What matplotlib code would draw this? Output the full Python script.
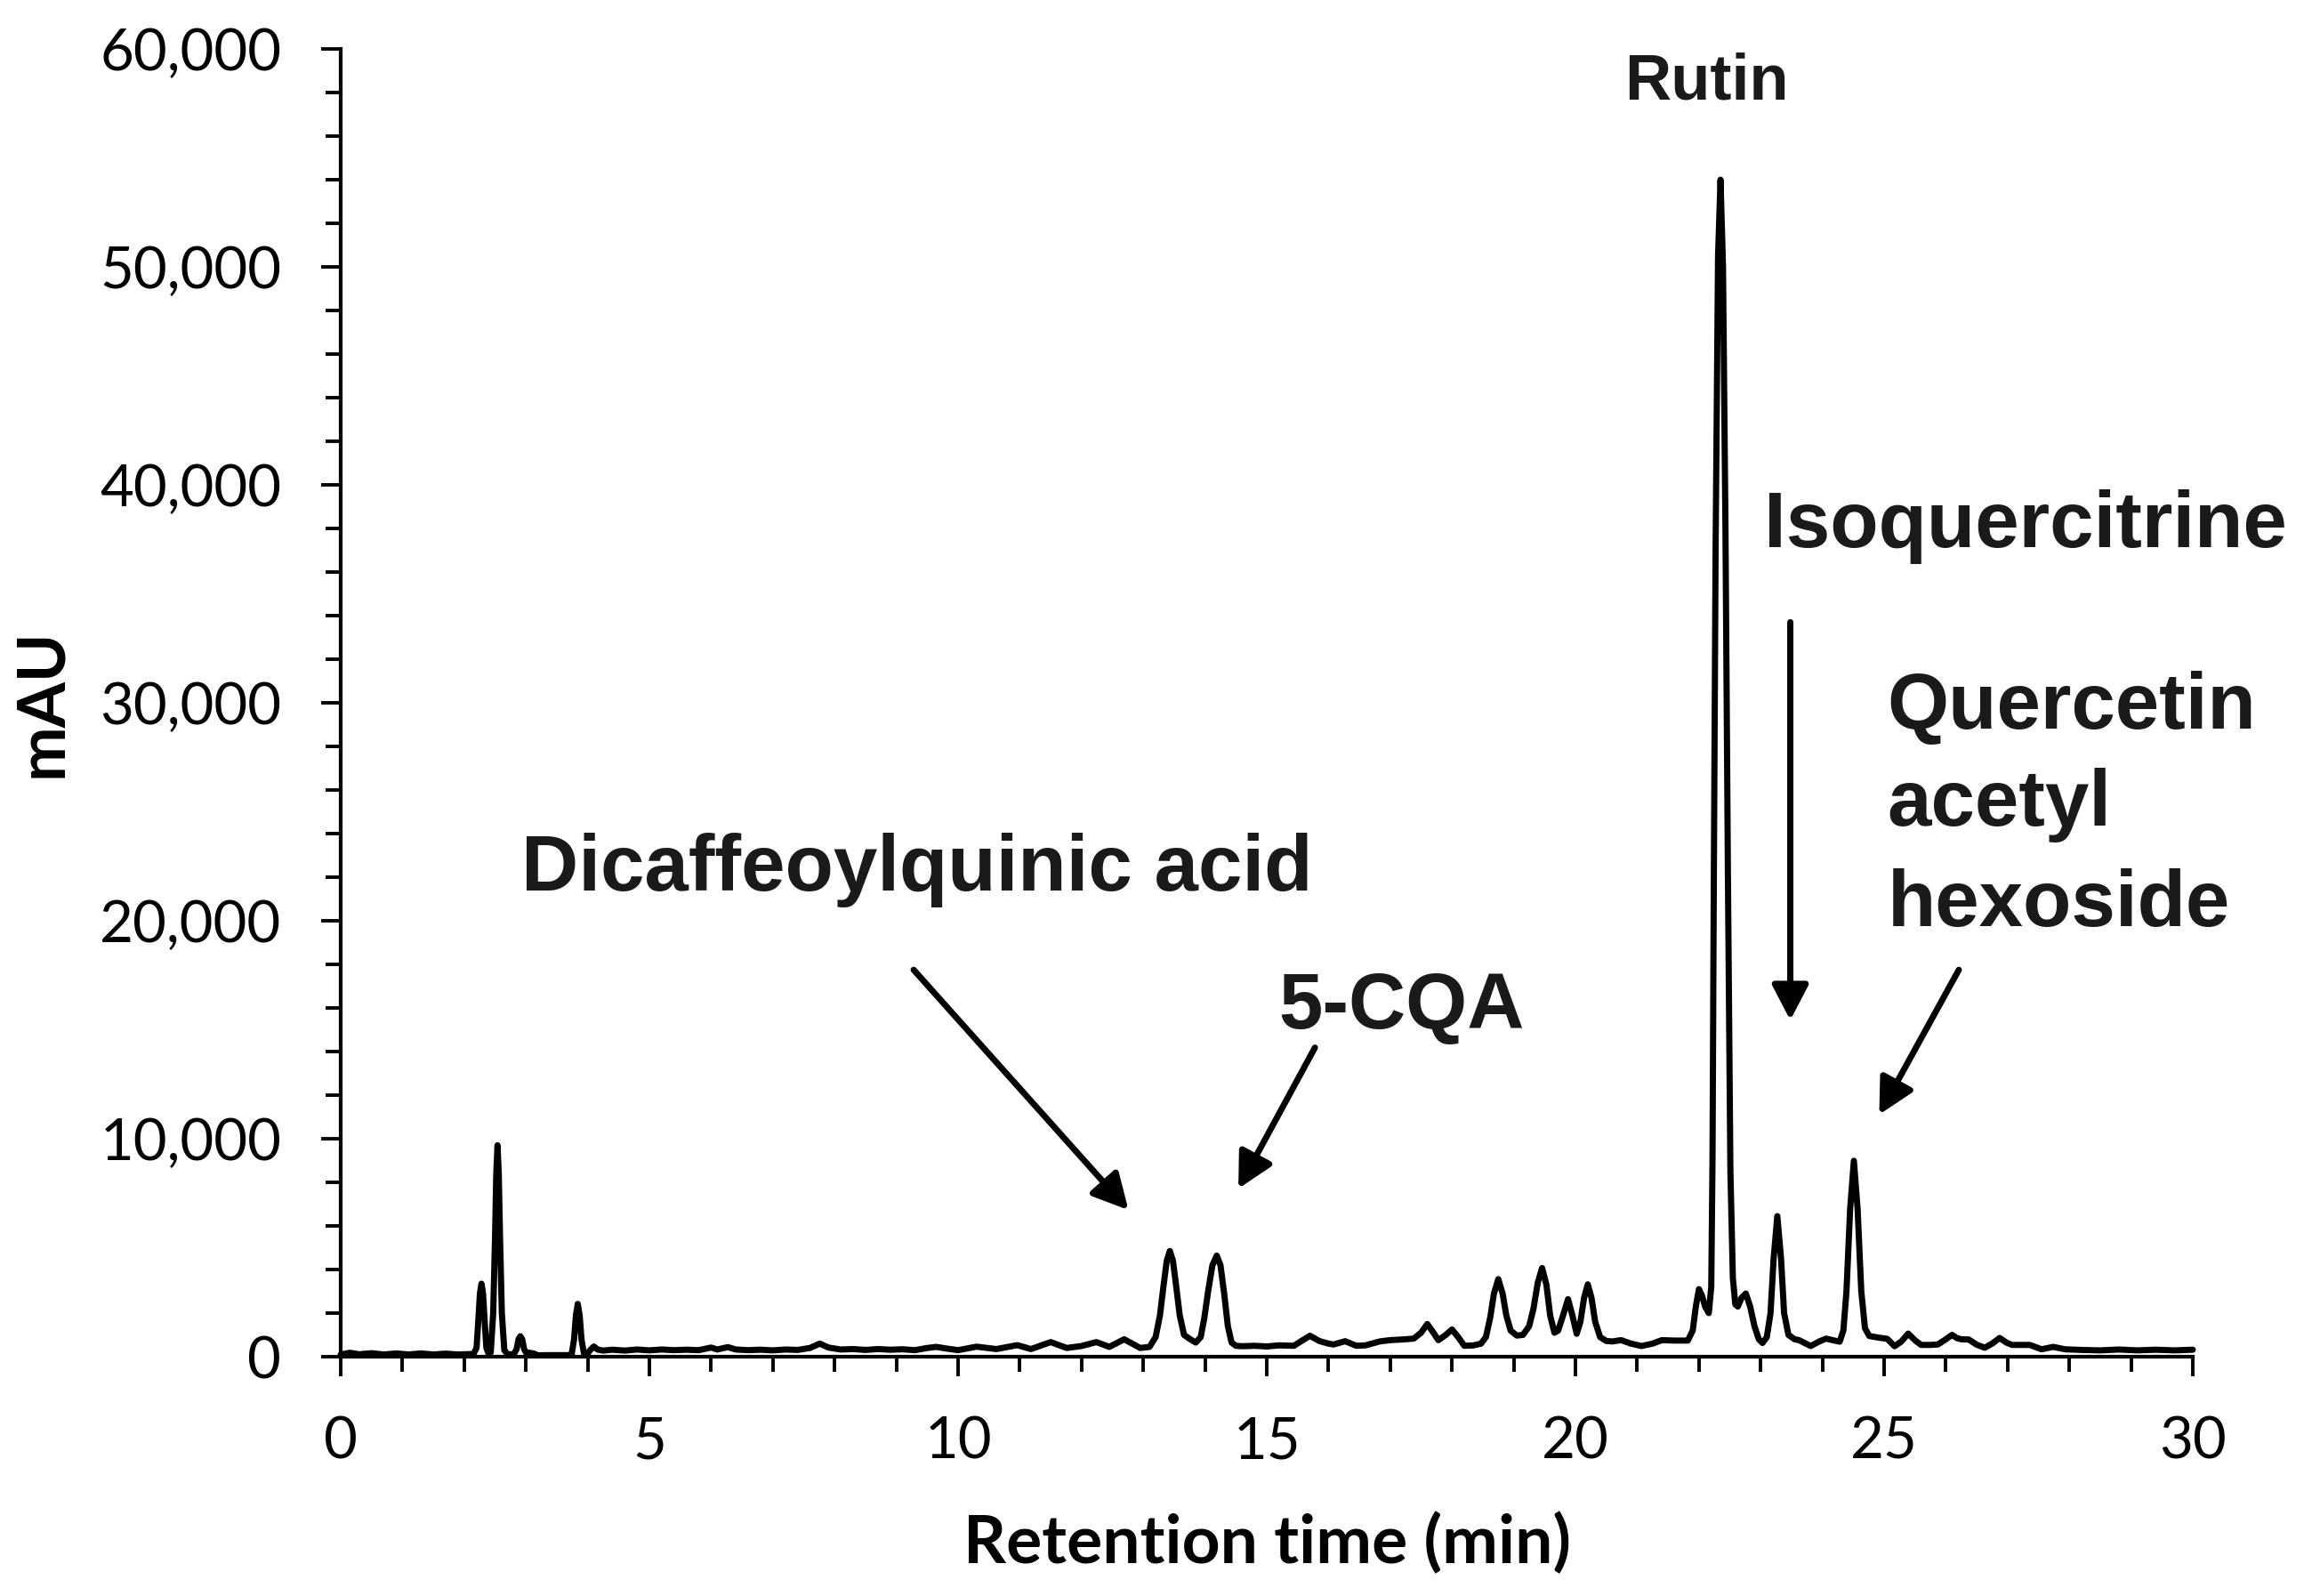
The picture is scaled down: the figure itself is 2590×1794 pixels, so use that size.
import matplotlib
matplotlib.use("Agg")
import matplotlib.pyplot as plt
import matplotlib.ticker as ticker

# chromatogram trace (retention time in min, signal in mAU)
rt_min = [
    0.0, 0.15, 0.3, 0.5, 0.7, 0.9, 1.1, 1.3, 1.5, 1.7, 1.9, 2.1,
    2.15, 2.2, 2.23, 2.255, 2.28, 2.305, 2.33, 2.36, 2.4,
    2.43, 2.47, 2.5, 2.52, 2.54, 2.56, 2.58, 2.61, 2.65, 2.7,
    2.8, 2.85, 2.88, 2.91, 2.94, 2.97, 3.0, 3.05, 3.12, 3.2, 3.3, 3.5, 3.7,
    3.74, 3.78, 3.81, 3.84, 3.87, 3.9, 3.94, 3.98,
    4.04, 4.1, 4.16, 4.25, 4.4, 4.6, 4.8, 5.0, 5.2, 5.4, 5.6, 5.8, 6.0, 6.1,
    6.27, 6.4, 6.6, 6.8, 7.0, 7.2, 7.4, 7.6, 7.76, 7.9, 8.1, 8.3, 8.5, 8.7,
    8.9, 9.1, 9.3, 9.5, 9.65, 9.8, 10.0,
    10.3, 10.62, 10.96, 11.18, 11.5, 11.76, 12.0, 12.24, 12.45, 12.69, 12.95,
    13.1, 13.2, 13.27, 13.33, 13.38, 13.43, 13.48, 13.53, 13.59, 13.66, 13.75, 13.85,
    13.93, 13.99, 14.05, 14.12, 14.19, 14.25, 14.31, 14.37, 14.43, 14.5,
    14.6, 14.8, 15.0, 15.2, 15.44, 15.55, 15.7, 15.85, 16.0, 16.08, 16.27, 16.45,
    16.6, 16.83, 17.0, 17.2, 17.38, 17.5, 17.6, 17.7, 17.78, 17.9, 18.0, 18.1,
    18.2, 18.35, 18.47,
    18.55, 18.62, 18.68, 18.75, 18.82, 18.88, 18.95, 19.05, 19.15, 19.25,
    19.32, 19.39, 19.46, 19.53, 19.59, 19.66,
    19.72, 19.8, 19.88, 19.95, 20.02,
    20.08, 20.14, 20.2, 20.26, 20.32, 20.4, 20.5, 20.6, 20.74, 20.9, 21.07,
    21.25, 21.4, 21.6, 21.82,
    21.9, 21.95, 22.0, 22.05, 22.1, 22.16,
    22.2, 22.22, 22.24, 22.27, 22.31, 22.35, 22.39, 22.43, 22.47, 22.51, 22.55,
    22.59, 22.63,
    22.69, 22.76, 22.83, 22.9, 22.97, 23.03,
    23.1, 23.16, 23.21, 23.27, 23.33, 23.38, 23.45, 23.55, 23.62, 23.81, 23.95,
    24.06, 24.18, 24.28,
    24.34, 24.39, 24.45, 24.51, 24.57, 24.63, 24.69, 24.76, 24.9, 25.05, 25.17,
    25.28, 25.39, 25.5, 25.6, 25.75, 25.87, 26.0, 26.1, 26.18, 26.25, 26.37,
    26.5, 26.63, 26.75, 26.87, 26.98, 27.07, 27.36, 27.55, 27.74, 27.93,
    28.2, 28.5, 28.8, 29.1, 29.4, 29.7, 30.0,
]
signal_mau = [
    100, 180, 110, 160, 100, 150, 100, 150, 100, 140, 100, 120,
    130, 400, 1700, 2900, 3350, 2900, 1700, 400, 100,
    200, 2000, 5500, 8400, 9700, 8400, 5500, 2000, 300, 120,
    100, 350, 800, 940, 800, 350, 200, 180, 150, 60, 70, 70, 70,
    100, 800, 1900, 2420, 1900, 800, 150, 80,
    300, 470, 330, 280, 320, 280, 330, 290, 330, 300, 320, 300, 420, 330,
    440, 330, 300, 320, 290, 330, 310, 400, 600, 420, 330, 350, 310, 350,
    320, 340, 300, 400, 450, 380, 300,
    460, 350, 530, 350, 670, 400, 490, 670, 450, 800, 400,
    450, 900, 1900, 3300, 4400, 4850, 4400, 3300, 1900, 1000, 820, 650,
    900, 1800, 3000, 4200, 4640, 4200, 2900, 1400, 650, 500,
    480, 500, 470, 520, 500, 700, 960, 720, 600, 560, 710, 500,
    520, 700, 760, 790, 830, 1100, 1500, 1100, 760, 1000, 1250, 900,
    500, 520, 600,
    900, 1800, 2900, 3560, 2900, 1900, 1200, 970, 1000, 1400,
    2200, 3400, 4070, 3300, 1900, 1100,
    1200, 1900, 2640, 1900, 1050,
    1600, 2700, 3320, 2700, 1600, 900, 720, 700, 760, 600, 490,
    600, 760, 740, 740,
    1200, 2300, 3100, 2800, 2300, 2000,
    3200, 9000, 21000, 37000, 50500, 54000, 50000, 38000, 22000, 8500, 3600,
    2400, 2300,
    2700, 2900, 2300, 1400, 800, 630,
    900, 2000, 4500, 6450, 4500, 2000, 1000, 800, 760, 490, 700,
    830, 750, 690,
    1200, 3000, 6800, 8990, 6800, 3000, 1300, 950, 880, 820, 480,
    700, 1060, 750, 540, 540, 560, 800, 1000, 850, 800, 790,
    550, 410, 600, 860, 650, 540, 540, 340, 450, 340,
    310, 290, 330, 290, 320, 290, 320,
]

# peak labels: text, x, baseline y, font size
label_texts = ["Rutin", "Isoquercitrine", "Quercetin", "acetyl", "hexoside",
               "Dicaffeoylquinic acid", "5-CQA"]
label_x = [22.12, 23.05, 25.05, 25.05, 25.05, 2.93, 15.19]
label_y = [57700, 37150, 28800, 24350, 19750, 21400, 15050]
label_sizes = [52, 64, 64, 64, 64, 64, 64]
label_ha = ["center", "left", "left", "left", "left", "left", "left"]

# arrows: tail -> tip
arrow_tail_x = [9.28, 15.78, 23.48, 26.21]
arrow_tail_y = [17750, 14180, 33700, 17750]
arrow_tip_x = [12.76, 14.54, 23.48, 24.92]
arrow_tip_y = [6730, 7710, 15440, 11110]

fig = plt.figure(figsize=(25.9, 17.94), dpi=100)
ax = fig.add_axes([0.14788, 0.14994, 0.80386, 0.81940])

ax.plot(rt_min, signal_mau, color="black", lw=5, solid_joinstyle="round",
        solid_capstyle="round", clip_on=False)

ax.set_xlim(0, 30)
ax.set_ylim(0, 60000)
ax.spines["top"].set_visible(False)
ax.spines["right"].set_visible(False)
ax.spines["left"].set_linewidth(3.0)
ax.spines["bottom"].set_linewidth(3.0)

ax.xaxis.set_major_locator(ticker.MultipleLocator(5))
ax.xaxis.set_minor_locator(ticker.MultipleLocator(1))
ax.yaxis.set_major_locator(ticker.MultipleLocator(10000))
ax.yaxis.set_minor_locator(ticker.MultipleLocator(2000))
ax.yaxis.set_major_formatter(ticker.FuncFormatter(lambda v, p: "{:,.0f}".format(v)))

ax.tick_params(which="major", direction="out", length=16, width=2.8, pad=32,
               labelsize=47, colors="black")
ax.tick_params(which="minor", direction="out", length=12, width=2.8)
for lab in ax.get_xticklabels() + ax.get_yticklabels():
    lab.set_fontfamily("Lato")

ax.set_xlabel("Retention time (min)", fontsize=54, fontweight="bold", family="Lato")
ax.set_ylabel("mAU", fontsize=53, fontweight="bold", family="Lato")
ax.xaxis.set_label_coords(0.5, -0.119)
ax.yaxis.set_label_coords(-0.1445, 0.5)

for txt, x, y, fs, ha in zip(label_texts, label_x, label_y, label_sizes, label_ha):
    ax.text(x, y, txt, fontsize=fs, fontweight="bold", family="Liberation Sans",
            color="#1a1a1a", ha=ha, va="baseline")

for x0, y0, x1, y1 in zip(arrow_tail_x, arrow_tail_y, arrow_tip_x, arrow_tip_y):
    ax.annotate("", xy=(x1, y1), xytext=(x0, y0),
                arrowprops=dict(arrowstyle="-|>,head_length=2.4,head_width=1.25",
                                lw=5, color="black", shrinkA=0, shrinkB=0,
                                mutation_scale=10))

fig.savefig("out.png", dpi=100)
